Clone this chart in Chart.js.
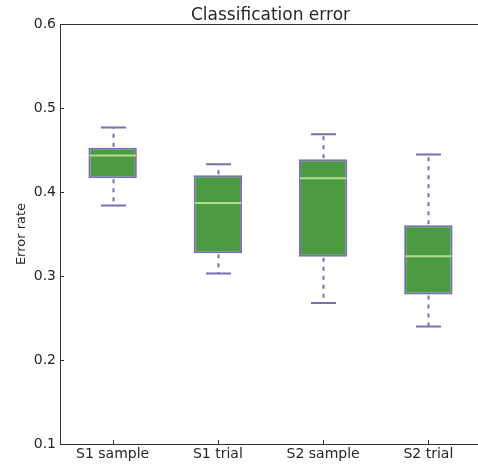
<!DOCTYPE html>
<html>
<head>
<meta charset="utf-8">
<script src="https://cdn.jsdelivr.net/npm/chart.js@4"></script>
<style>
  html, body { margin: 0; padding: 0; background: #fff; overflow: hidden; }
  #wrap { width: 483px; height: 464px; position: relative; }
</style>
</head>
<body>
<div id="wrap"><canvas id="boxChart"></canvas></div>
<script>
// --- DATA ---
const categories = ['S1 sample', 'S1 trial', 'S2 sample', 'S2 trial'];
const whiskerLow  = [0.384, 0.303, 0.268, 0.240];
const q1          = [0.4165, 0.327, 0.323, 0.278];
const median      = [0.4435, 0.387, 0.4165, 0.3236];
const q3          = [0.4526, 0.420, 0.439, 0.3605];
const whiskerHigh = [0.4768, 0.433, 0.4688, 0.4446];
const yTicks      = [0.1, 0.2, 0.3, 0.4, 0.5, 0.6];

const EDGE = '#7570b3';
const FILL = '#4c9a42';
const MEDIAN = '#b3de8a';
const AXIS = '#333333';
const TEXT = '#262626';
const FONT = '"DejaVu Sans", sans-serif';

// whiskers, caps, medians, frame, inward ticks, title and y label
const boxExtras = {
  id: 'boxExtras',
  afterDatasetsDraw(chart) {
    const ctx = chart.ctx;
    const x = chart.scales.x, y = chart.scales.y;
    const meta = chart.getDatasetMeta(0);
    ctx.save();
    categories.forEach((c, i) => {
      const bar = meta.data[i];
      const cx = Math.round(x.getPixelForValue(i)) + 0.5;
      const half = bar.width / 2;
      const capHalf = 12.5;
      const yLo = y.getPixelForValue(whiskerLow[i]);
      const yHi = y.getPixelForValue(whiskerHigh[i]);
      const yQ1 = y.getPixelForValue(q1[i]);
      const yQ3 = y.getPixelForValue(q3[i]);
      const yMed = y.getPixelForValue(median[i]);

      // dashed whiskers
      ctx.strokeStyle = EDGE;
      ctx.lineWidth = 2;
      ctx.setLineDash([4, 5]);
      ctx.beginPath();
      ctx.moveTo(cx, yQ3 - 1); ctx.lineTo(cx, yHi);
      ctx.moveTo(cx, yQ1 + 1); ctx.lineTo(cx, yLo);
      ctx.stroke();

      // caps
      ctx.setLineDash([]);
      ctx.beginPath();
      ctx.moveTo(cx - capHalf, yHi); ctx.lineTo(cx + capHalf, yHi);
      ctx.moveTo(cx - capHalf, yLo); ctx.lineTo(cx + capHalf, yLo);
      ctx.stroke();

      // median
      ctx.strokeStyle = MEDIAN;
      ctx.beginPath();
      ctx.moveTo(bar.x - half + 1, yMed); ctx.lineTo(bar.x + half - 1, yMed);
      ctx.stroke();
    });

    // frame
    const a = chart.chartArea;
    ctx.strokeStyle = AXIS;
    ctx.lineWidth = 1;
    ctx.strokeRect(Math.round(a.left) + 0.5, Math.round(a.top) + 0.5,
      Math.round(a.right - a.left), Math.round(a.bottom - a.top));

    // inward ticks
    ctx.beginPath();
    yTicks.forEach(v => {
      const py = Math.round(y.getPixelForValue(v)) + 0.5;
      ctx.moveTo(a.left, py); ctx.lineTo(a.left + 4, py);
    });
    categories.forEach((c, i) => {
      const px = Math.round(x.getPixelForValue(i)) + 0.5;
      ctx.moveTo(px, a.bottom); ctx.lineTo(px, a.bottom - 4);
    });
    ctx.stroke();

    // title
    ctx.fillStyle = TEXT;
    ctx.font = '17px ' + FONT;
    ctx.textAlign = 'center';
    ctx.textBaseline = 'alphabetic';
    ctx.fillText('Classification error', (a.left + a.right) / 2, 20);

    // y label
    ctx.font = '13px ' + FONT;
    ctx.translate(25, (a.top + a.bottom) / 2);
    ctx.rotate(-Math.PI / 2);
    ctx.fillText('Error rate', 0, 0);
    ctx.restore();
  }
};

new Chart(document.getElementById('boxChart'), {
  type: 'bar',
  data: {
    labels: categories,
    datasets: [{
      data: q1.map((v, i) => [v, q3[i]]),
      backgroundColor: FILL,
      borderColor: EDGE,
      borderWidth: 2,
      borderSkipped: false,
      barPercentage: 0.46,
      categoryPercentage: 1
    }]
  },
  options: {
    responsive: true,
    maintainAspectRatio: false,
    animation: false,
    layout: { padding: { top: 24, right: 2, left: 0, bottom: 0 } },
    plugins: { legend: { display: false }, tooltip: { enabled: false }, title: { display: false } },
    scales: {
      x: {
        grid: { display: false, drawTicks: false },
        border: { display: false },
        ticks: { color: TEXT, font: { family: FONT, size: 14 }, padding: 2, maxRotation: 0 },
        afterFit: s => { s.height = 20; }
      },
      y: {
        min: 0.1,
        max: 0.6,
        grid: { display: false, drawTicks: false },
        border: { display: false },
        afterBuildTicks: s => { s.ticks = yTicks.map(v => ({ value: v })); },
        ticks: {
          color: TEXT,
          font: { family: FONT, size: 14 },
          padding: 4,
          callback: v => v.toFixed(1)
        },
        afterFit: s => { s.width = 60; }
      }
    }
  },
  plugins: [boxExtras]
});
</script>
</body>
</html>
